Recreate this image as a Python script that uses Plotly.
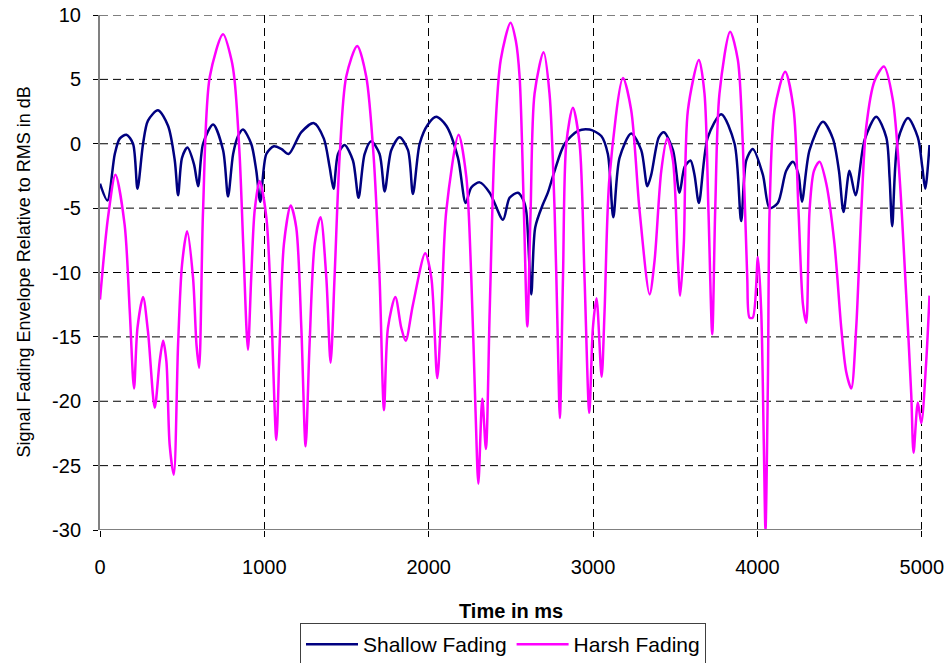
import plotly.graph_objects as go

# ---- data (time in ms, envelope in dB) ----
time_shallow = [0, 45, 90, 120, 161, 201, 228, 262, 292, 353, 414, 455, 475, 499, 532, 572, 597, 627, 688,
                749, 779, 810, 840, 870, 920, 951, 975, 1012, 1058, 1103, 1148, 1225, 1302, 1362, 1397, 1421,
                1448, 1488, 1539, 1573, 1610, 1650, 1701, 1732, 1772, 1823, 1874, 1904, 1945, 1995, 2046,
                2107, 2178, 2225, 2259, 2310, 2371, 2452, 2492, 2543, 2573, 2593, 2624, 2648, 2695, 2725,
                2766, 2827, 2908, 2979, 3050, 3090, 3123, 3161, 3232, 3293, 3330, 3354, 3400, 3431, 3486,
                3526, 3557, 3593, 3617, 3644, 3698, 3780, 3861, 3901, 3932, 3972, 4033, 4074, 4124, 4175,
                4216, 4250, 4271, 4317, 4398, 4459, 4496, 4524, 4560, 4597, 4652, 4723, 4784, 4804, 4820,
                4855, 4916, 4976, 5003, 5021, 5047]
shallow_db = [-3.1, -4.4, -0.8, 0.4, 0.7, 0.0, -3.5, 0.0, 1.8, 2.6, 1.4, -1.3, -4.0, -1.1, -0.3, -1.6, -3.3, 0.0, 1.5,
              -0.5, -4.1, -0.8, 0.6, 1.1, 0.0, -2.1, -4.5, -0.8, -0.2, -0.4, -0.8, 0.9, 1.6, 0.4, -1.8, -3.5,
              -0.8, -0.1, -1.3, -4.2, -0.8, 0.2, -0.8, -3.7, -0.5, 0.5, -0.5, -3.9, 0.0, 1.5, 2.1,
              1.4, -1.1, -4.6, -3.4, -3.0, -3.8, -5.9, -4.2, -3.8, -4.3, -5.2, -11.7, -6.5, -4.7, -3.8,
              -2.1, 0.0, 1.0, 1.1, 0.6, -0.8, -5.7, -1.1, 0.8, -0.5, -3.3, -2.4, 0.5, 0.9, -0.5,
              -3.8, -1.8, -1.3, -2.4, -4.6, 0.5, 2.3, 0.0, -6.0, -1.3, -0.4, -2.4, -5.0, -4.6, -2.1,
              -1.4, -2.4, -4.5, -0.5, 1.7, 0.4, -2.1, -5.3, -2.1, -4.0, 0.3, 2.1, 0.5, -2.6, -6.4,
              0.3, 2.0, 0.5, -1.8, -3.5, -0.1]

time_harsh = [0, 49, 94, 150, 181, 207, 228, 262, 292, 333, 363, 384, 404, 424, 449, 475, 499, 530, 566, 587,
              603, 627, 668, 749, 800, 819, 850, 872, 900, 920, 941, 971, 1012, 1042, 1073, 1093, 1119,
              1160, 1194, 1225, 1251, 1275, 1306, 1342, 1377, 1403, 1427, 1458, 1498, 1565, 1620, 1665,
              1701, 1728, 1752, 1797, 1833, 1860, 1904, 1979, 2016, 2052, 2077, 2107, 2182, 2229, 2259,
              2285, 2302, 2326, 2348, 2371, 2401, 2438, 2498, 2530, 2553, 2579, 2600, 2620, 2644, 2699,
              2735, 2766, 2786, 2798, 2817, 2837, 2877, 2918, 2948, 2977, 2999, 3021, 3052, 3070, 3100,
              3182, 3232, 3283, 3344, 3374, 3415, 3451, 3486, 3516, 3530, 3552, 3577, 3644, 3678, 3702,
              3725, 3743, 3769, 3834, 3881, 3911, 3938, 3952, 3972, 4003, 4023, 4039, 4049, 4064, 4074,
              4104, 4169, 4220, 4250, 4277, 4297, 4317, 4344, 4378, 4419, 4469, 4510, 4540, 4571, 4601,
              4632, 4662, 4713, 4770, 4824, 4865, 4905, 4936, 4950, 4976, 4997, 5027, 5047]
harsh_db = [-12.1, -5.7, -2.4, -6.3, -13.0, -19.0, -14.3, -11.9, -14.6, -20.5, -16.9, -15.3, -16.9, -23.4, -25.7,
            -15.6, -9.4, -6.8, -10.4, -15.6,
            -17.4, -5.2, 5.2, 8.5, 6.5, 4.9, -1.0, -8.0, -16.0, -10.4, -5.2, -2.9, -5.7, -13.0, -23.0, -15.6, -7.8,
            -4.8, -6.5, -14.3, -23.5, -15.6, -7.8, -5.7, -10.4, -17.0, -10.4, -1.0, 5.2, 7.6, 5.2, -1.0,
            -10.4, -20.7, -14.3, -11.9, -14.3, -15.3, -12.5, -8.5, -10.4, -18.2, -13.0, -5.2, 0.7, -2.6, -10.4,
            -20.8, -26.4, -19.8, -23.7, -13.0, 0.0, 6.5, 9.4, 8.0, 5.2, -5.2, -14.2, -5.2, 3.9, 7.1,
            3.9, -5.2, -15.6, -21.3, -10.4, 0.0, 2.8, 0.0, -10.4, -20.9, -14.3, -12.0, -18.1, -13.0, -2.6,
            5.1, 2.6, -5.2, -11.7, -9.1, -2.1, 0.4, -1.3, -9.1, -11.8, -7.8, 2.6, 6.5, 3.9, -5.2,
            -14.8, -5.2, 3.9, 8.7, 6.5, 0.0, -10.4, -13.5, -13.5, -8.8, -13.0, -23.4, -30.0, -18.2, -5.2,
            2.6, 5.6, 2.7, -5.2, -12.5, -13.9, -5.2, -2.1, -1.4, -3.1, -7.8, -14.3, -17.7, -19.0, -14.3,
            -5.2, 1.3, 4.9, 6.0, 3.4, -2.6, -11.7, -19.5, -24.0, -20.1, -21.7, -16.9, -11.8]

x_ticks = [0, 1000, 2000, 3000, 4000, 5000]
y_ticks = [-30, -25, -20, -15, -10, -5, 0, 5, 10]
y_ticklabels = ["-30", "-25", "-20", "-15", "-10", "-5", "0", "5", "10"]

FONT = "Liberation Sans, Arial, sans-serif"

fig = go.Figure()
fig.add_trace(go.Scatter(x=time_shallow, y=shallow_db, mode="lines", name="Shallow Fading",
                         line=dict(color="#000080", width=2.5, shape="spline", smoothing=0.8)))
fig.add_trace(go.Scatter(x=time_harsh, y=harsh_db, mode="lines", name="Harsh Fading",
                         line=dict(color="#FF00FF", width=2.5, shape="spline", smoothing=0.8)))

shapes = []
for yv in y_ticks[1:]:
    shapes.append(dict(type="line", xref="x", yref="y", x0=0, x1=5000, y0=yv, y1=yv, layer="below",
                       line=dict(color="#000000", width=1, dash="8px,5px")))
shapes.append(dict(type="line", xref="x", yref="y", x0=0, x1=5000, y0=-30, y1=-30, layer="above",
                   line=dict(color="#808080", width=2)))

fig.update_layout(
    width=946, height=663,
    margin=dict(l=100, r=16, t=15, b=133, autoexpand=False),
    paper_bgcolor="white", plot_bgcolor="white",
    font=dict(family=FONT, size=20, color="black"),
    showlegend=True,
    legend=dict(orientation="h", x=(503 - 100) / 830, xanchor="center", y=-0.1806, yanchor="top",
                bordercolor="#404040", borderwidth=1, bgcolor="white",
                font=dict(family=FONT, size=21, color="black"), itemwidth=52),
    shapes=shapes,
    annotations=[
        dict(text="Time in ms", xref="x", yref="paper", x=2500, y=-0.157, xanchor="center", yanchor="middle",
             showarrow=False, font=dict(family=FONT, size=20, color="black", weight="bold")),
        dict(text="Signal Fading Envelope Relative to RMS in dB", xref="paper", yref="paper",
             x=(23 - 100) / 830, y=0.5, xanchor="center", yanchor="middle", textangle=-90,
             showarrow=False, font=dict(family=FONT, size=18, color="black")),
    ],
)
fig.update_xaxes(range=[0, 5050], tickvals=x_ticks, ticktext=[str(v) for v in x_ticks],
                 showgrid=True, gridcolor="#000000", gridwidth=1, griddash="8px,5px",
                 zeroline=False, showline=False, ticks="outside", ticklen=6, tickcolor="#000000",
                 tickfont=dict(family=FONT, size=20, color="black"), ticklabelstandoff=13,
                 automargin=False)
fig.update_yaxes(range=[-30, 10], tickvals=y_ticks, ticktext=y_ticklabels, showgrid=False, zeroline=False,
                 showline=True, linecolor="#808080", linewidth=2, ticks="outside", ticklen=5,
                 tickcolor="#000000", tickfont=dict(family=FONT, size=20, color="black"),
                 ticklabelstandoff=8, automargin=False)

fig.write_html("out.html", config={"displayModeBar": False},
               post_script="document.body.style.margin='0px';document.body.style.overflow='hidden';")
